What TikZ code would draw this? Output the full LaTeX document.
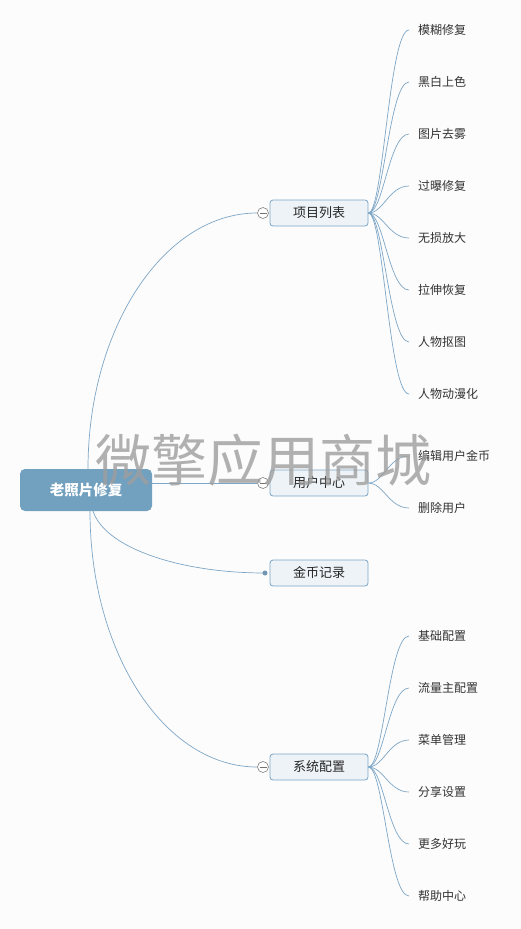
\documentclass[tikz,border=0pt]{standalone}
\usepackage{fontspec}
\setmainfont{Noto Sans CJK SC}
\usetikzlibrary{calc}
\definecolor{bgc}{HTML}{FCFCFC}
\definecolor{rootc}{HTML}{72A0BF}
\definecolor{brfill}{HTML}{EEF3F7}
\definecolor{brline}{HTML}{7AA5C6}
\definecolor{linkc}{HTML}{7EA6C6}
\definecolor{txtc}{HTML}{333333}
\pgfdeclarelayer{bg}
\pgfsetlayers{bg,main}
\begin{document}
\begin{tikzpicture}[x=1pt,y=-1pt,
  rootbox/.style={fill=rootc, rounded corners=5pt, minimum width=132pt, minimum height=42pt, inner sep=0pt, text=white, font=\fontsize{14.5}{16}\selectfont\bfseries},
  brbox/.style={fill=brfill, draw=brline, line width=0.8pt, rounded corners=3pt, minimum width=98pt, minimum height=26pt, inner sep=0pt, text=black!85, font=\fontsize{13}{15}\selectfont},
  leaf/.style={anchor=west, inner sep=0pt, text=txtc, font=\fontsize{12}{14}\selectfont},
  tog/.style={circle, draw=black!50, fill=white, line width=0.6pt, minimum size=11pt, inner sep=0pt},
  dotc/.style={circle, fill=linkc!90!black, minimum size=5pt, inner sep=0pt},
  link/.style={draw=linkc, line width=0.7pt},
  wm/.style={inner sep=0pt, text=black!38, opacity=0.8, font=\fontsize{56}{60}\selectfont}
]
\useasboundingbox (0,0) rectangle (521,929);

% root and branches
\node[rootbox] (root) at (86,490) {老照片修复};
\node[brbox] (b1) at (319,213) {项目列表};
\node[brbox] (b2) at (319,483) {用户中心};
\node[brbox] (b3) at (319,573) {金币记录};
\node[brbox] (b4) at (319,767) {系统配置};

\node[tog] (t1) at (263,213) {};
\node[tog] (t2) at (263,483) {};
\node[dotc] (t3) at (265,573) {};
\node[tog] (t4) at (263,767) {};
\foreach \t in {t1,t2,t4} {\draw[black!55, line width=0.6pt] ([xshift=-3.5pt]\t.center) -- ([xshift=3.5pt]\t.center);}

\coordinate (rt) at (88,469);
\coordinate (rb) at (90,511);
\coordinate (rc) at (93,511);

% leaves
\node[leaf] (a1) at (418,30) {模糊修复};
\node[leaf] (a2) at (418,82) {黑白上色};
\node[leaf] (a3) at (418,134) {图片去雾};
\node[leaf] (a4) at (418,186) {过曝修复};
\node[leaf] (a5) at (418,238) {无损放大};
\node[leaf] (a6) at (418,290) {拉伸恢复};
\node[leaf] (a7) at (418,342) {人物抠图};
\node[leaf] (a8) at (418,394) {人物动漫化};

\node[leaf] (u1) at (418,456) {编辑用户金币};
\node[leaf] (u2) at (418,508) {删除用户};

\node[leaf] (s1) at (418,636) {基础配置};
\node[leaf] (s2) at (418,688) {流量主配置};
\node[leaf] (s3) at (418,740) {菜单管理};
\node[leaf] (s4) at (418,792) {分享设置};
\node[leaf] (s5) at (418,844) {更多好玩};
\node[leaf] (s6) at (418,896) {帮助中心};

\begin{pgfonlayer}{bg}
\fill[bgc] (0,0) rectangle (521,929);
\draw[link] (rt) .. controls (88,328) and (164,213) .. (t1.west);
\draw[link] (root.east |- t2.west) -- (t2.west);
\draw[link] (rc) .. controls (105,548) and (180,573) .. (t3.center);
\draw[link] (rb) .. controls (90,652) and (164,767) .. (t4.west);
\foreach \l in {a1,a2,a3,a4,a5,a6,a7,a8} {
  \draw[link] (b1.east) .. controls +(15,0) and +(-20,0) .. ([xshift=-9pt]\l.west);
}
\foreach \l in {u1,u2} {
  \draw[link] (b2.east) .. controls +(15,0) and +(-20,0) .. ([xshift=-9pt]\l.west);
}
\foreach \l in {s1,s2,s3,s4,s5,s6} {
  \draw[link] (b4.east) .. controls +(15,0) and +(-20,0) .. ([xshift=-9pt]\l.west);
}
\end{pgfonlayer}

% watermark
\node[wm] (wm) at (263,460) {微擎应用商城};
\end{tikzpicture}
\end{document}
